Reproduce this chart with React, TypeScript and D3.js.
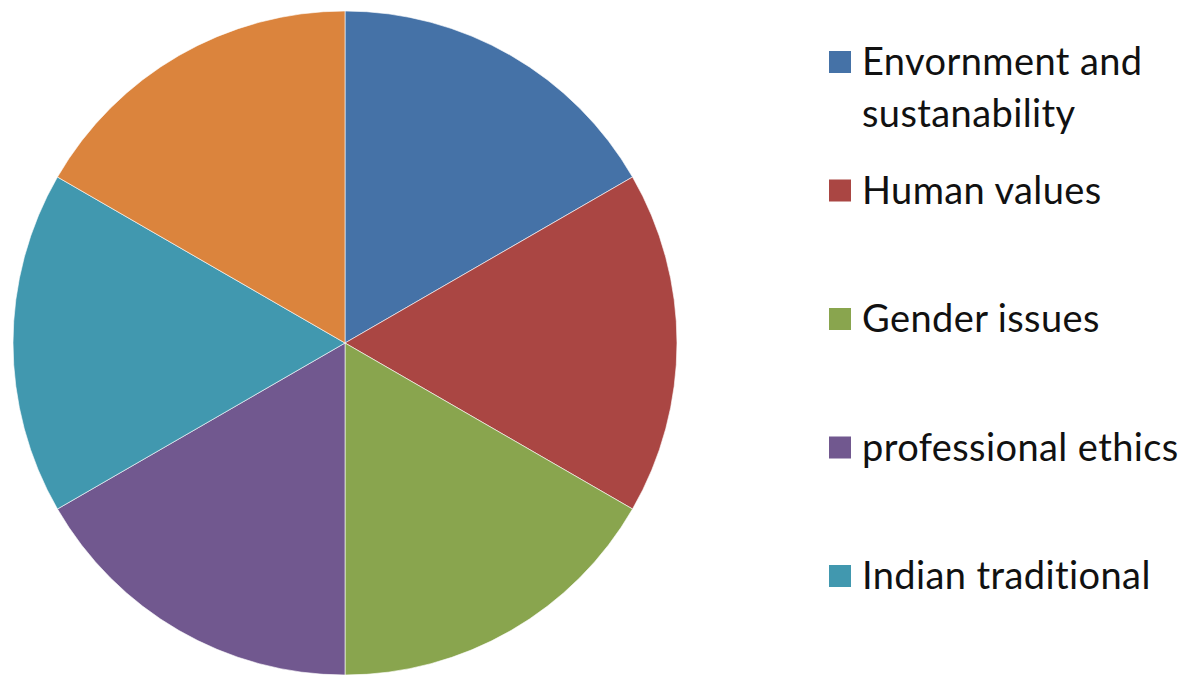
import { useEffect, useRef } from 'react'
import * as d3 from 'd3'

// slice labels (the 6th slice has no legend entry in the source)
const categories = [
  'Envornment and sustanability',
  'Human values',
  'Gender issues',
  'professional ethics',
  'Indian traditional',
  '',
]
const values = [1, 1, 1, 1, 1, 1]
const colors = ['#4572A7', '#AA4643', '#89A54E', '#71588F', '#4198AF', '#DB843D']
// legend text lines (wrapped as in the source)
const legendLines = [
  ['Envornment and', 'sustanability'],
  ['Human values'],
  ['Gender issues'],
  ['professional ethics'],
  ['Indian traditional'],
]

export default function App() {
  const svgRef = useRef<SVGSVGElement | null>(null)

  useEffect(() => {
    if (!svgRef.current) return
    const width = 1194, height = 675
    const cx = 345, cy = 343, r = 332

    const svg = d3.select(svgRef.current)
    svg.selectAll('*').remove()
    svg.attr('width', width).attr('height', height)

    const data = categories.map((c, i) => ({ label: c, value: values[i], color: colors[i] }))

    const pie = d3.pie<any>().sort(null).value(d => d.value)
    const arc = d3.arc<any>().innerRadius(0).outerRadius(r)

    const g = svg.append('g').attr('transform', `translate(${cx},${cy})`)
    g.selectAll('path')
      .data(pie(data))
      .join('path')
      .attr('d', arc)
      .attr('fill', d => d.data.color)
      .attr('stroke', '#ffffff')
      .attr('stroke-opacity', 0.6)
      .attr('stroke-width', 1)

    // Legend
    const lx = 829, ly0 = 51, step = 128.5, box = 22
    const legend = svg.append('g')
    legendLines.forEach((lines, i) => {
      const y = ly0 + i * step
      legend.append('rect')
        .attr('x', lx).attr('y', y)
        .attr('width', box).attr('height', box)
        .attr('fill', colors[i])
      const t = legend.append('text')
        .attr('x', lx + 33)
        .attr('y', y + box / 2 + 13)
        .attr('font-family', 'Lato, sans-serif')
        .attr('font-size', 38)
        .attr('letter-spacing', 0.4)
        .attr('fill', '#111')
      lines.forEach((ln, j) => {
        t.append('tspan')
          .attr('x', lx + 33)
          .attr('dy', j === 0 ? 0 : 52)
          .text(ln)
      })
    })
  }, [])

  return (
    <svg ref={svgRef} style={{ position: 'absolute', left: 0, top: 0, background: '#fff' }} />
  )
}
